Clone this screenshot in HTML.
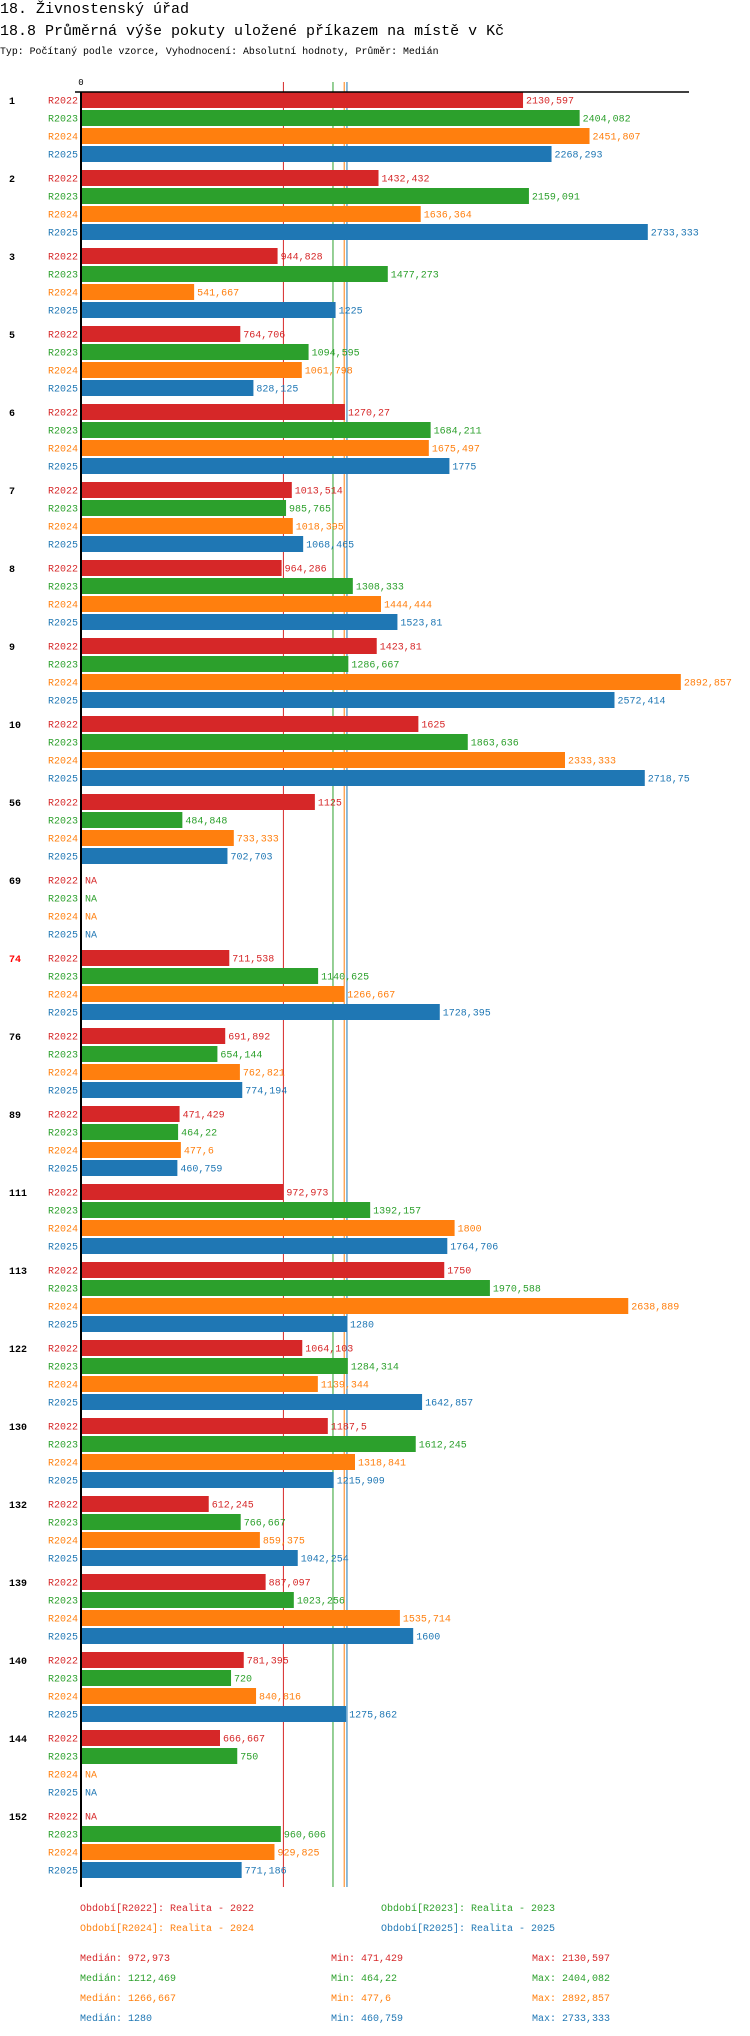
<!DOCTYPE html>
<html><head><meta charset="utf-8"><style>
body{margin:0;background:#fff;}
svg{display:block;font-family:"Liberation Mono","DejaVu Sans Mono",monospace;}
</style></head><body>
<svg id="chart" width="750" height="2036" xmlns="http://www.w3.org/2000/svg">
<text x="0" y="13" font-size="15">18. Živnostenský úřad</text>
<text x="0" y="35" font-size="15">18.8 Průměrná výše pokuty uložené příkazem na místě v Kč</text>
<text x="0" y="54" font-size="9.9">Typ: Počítaný podle vzorce, Vyhodnocení: Absolutní hodnoty, Průměr: Medián</text>
<g id="g"></g>
</svg>
<script>
const groups=["1","2","3","5","6","7","8","9","10","56","69","74","76","89","111","113","122","130","132","139","140","144","152"];
const series=["R2022","R2023","R2024","R2025"];
const colors=["#d62728","#2ca02c","#ff7f0e","#1f77b4"];
const r2022=[2130.597,1432.432,944.828,764.706,1270.27,1013.514,964.286,1423.81,1625,1125,null,711.538,691.892,471.429,972.973,1750,1064.103,1187.5,612.245,887.097,781.395,666.667,null];
const r2023=[2404.082,2159.091,1477.273,1094.595,1684.211,985.765,1308.333,1286.667,1863.636,484.848,null,1140.625,654.144,464.22,1392.157,1970.588,1284.314,1612.245,766.667,1023.256,720,750,960.606];
const r2024=[2451.807,1636.364,541.667,1061.798,1675.497,1018.395,1444.444,2892.857,2333.333,733.333,null,1266.667,762.821,477.6,1800,2638.889,1139.344,1318.841,859.375,1535.714,840.816,null,929.825];
const r2025=[2268.293,2733.333,1225,828.125,1775,1068.465,1523.81,2572.414,2718.75,702.703,null,1728.395,774.194,460.759,1764.706,1280,1642.857,1215.909,1042.254,1600,1275.862,null,771.186];
const medians=[972.973,1212.469,1266.667,1280];
const mins=["471,429","464,22","477,6","460,759"];
const maxs=["2130,597","2404,082","2892,857","2733,333"];
const medLabels=["972,973","1212,469","1266,667","1280"];
const legendLabels=["Období[R2022]: Realita - 2022","Období[R2023]: Realita - 2023","Období[R2024]: Realita - 2024","Období[R2025]: Realita - 2025"];
const highlighted=["74"];
const data=[r2022,r2023,r2024,r2025];
const X0=82,K=0.207,Y0=92,GP=78,RP=18,BH=16,AXB=1887;
const xs=v=>X0+v*K;
const g=document.getElementById('g');
const NS="http://www.w3.org/2000/svg";
function mk(t,a,txt){const e=document.createElementNS(NS,t);for(const k in a)e.setAttribute(k,a[k]);if(txt!=null)e.textContent=txt;g.appendChild(e);return e;}
const fmt=v=>String(+v.toFixed(3)).replace('.',',');
medians.forEach((m,i)=>{const e=mk('line',{x1:xs(m),x2:xs(m),y1:82,y2:AXB,stroke:colors[i],'stroke-width':1});

});
groups.forEach((gn,gi)=>{
 const gy=Y0+gi*GP;
 const t=mk('text',{x:9,y:gy+RP/2+3,'font-size':10,'font-weight':'bold',fill:highlighted.includes(gn)?'#ff0000':'#000'},gn);
 
 
 series.forEach((s,si)=>{
  const y=gy+si*RP;const v=data[si][gi];
  const l=mk('text',{x:78,y:y+BH/2+3.5,'font-size':10,'text-anchor':'end',fill:colors[si]},s);
  
  
  if(v==null){
   const n=mk('text',{x:85,y:y+BH/2+3.5,'font-size':10,fill:colors[si]},'NA');
   
   
  }else{
   const b=mk('rect',{x:X0,y:y,width:xs(v)-X0,height:BH,fill:colors[si]});
   
   
   const vl=mk('text',{x:xs(v)+3,y:y+BH/2+3.5,'font-size':10,fill:colors[si]},fmt(v));
   
   
  }
 });
});
const ax=mk('line',{x1:75,x2:689,y1:92,y2:92,stroke:'#000','stroke-width':1.5});


const ay=mk('line',{x1:81,x2:81,y1:92,y2:AXB,stroke:'#000','stroke-width':2});


const z=mk('text',{x:81,y:85,'font-size':9,'text-anchor':'middle'},'0');


legendLabels.forEach((s,i)=>{
 const e=mk('text',{x:i%2?381:80,y:1911+Math.floor(i/2)*20,'font-size':10,fill:colors[i]},s);
 
 
});
series.forEach((s,i)=>{
 const y=1961+i*20;
 const a=mk('text',{x:80,y:y,'font-size':10,fill:colors[i]},'Medián: '+medLabels[i]);
 
 
 const b=mk('text',{x:331,y:y,'font-size':10,fill:colors[i]},'Min: '+mins[i]);
 
 
 const c=mk('text',{x:532,y:y,'font-size':10,fill:colors[i]},'Max: '+maxs[i]);
 
 
});
</script>
</body></html>
